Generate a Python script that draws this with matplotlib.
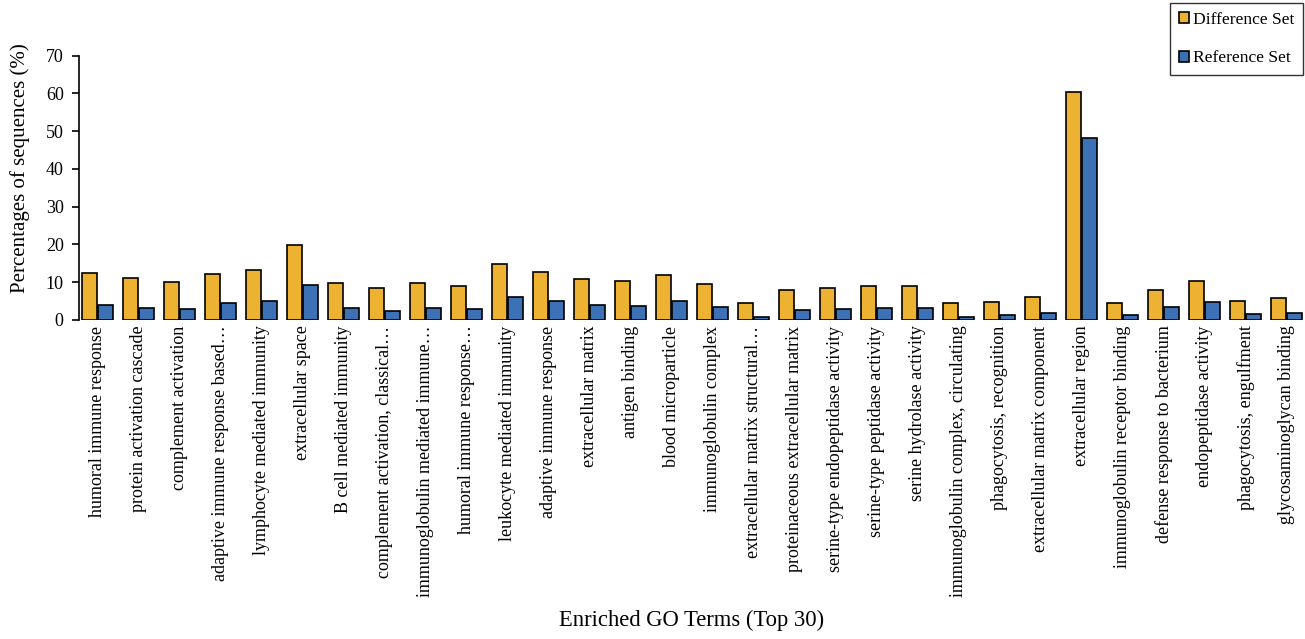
import matplotlib
matplotlib.use("Agg")
import matplotlib.pyplot as plt
import numpy as np

categories = [
    "humoral immune response",
    "protein activation cascade",
    "complement activation",
    "adaptive immune response based\u2026",
    "lymphocyte mediated immunity",
    "extracellular space",
    "B cell mediated immunity",
    "complement activation, classical\u2026",
    "immunoglobulin mediated immune\u2026",
    "humoral immune response\u2026",
    "leukocyte mediated immunity",
    "adaptive immune response",
    "extracellular matrix",
    "antigen binding",
    "blood microparticle",
    "immunoglobulin complex",
    "extracellular matrix structural\u2026",
    "proteinaceous extracellular matrix",
    "serine-type endopeptidase activity",
    "serine-type peptidase activity",
    "serine hydrolase activity",
    "immunoglobulin complex, circulating",
    "phagocytosis, recognition",
    "extracellular matrix component",
    "extracellular region",
    "immunoglobulin receptor binding",
    "defense response to bacterium",
    "endopeptidase activity",
    "phagocytosis, engulfment",
    "glycosaminoglycan binding",
]

difference_set = [12.5, 11.1, 10.1, 12.3, 13.2, 19.9, 9.9, 8.4, 9.7, 8.9,
                  14.7, 12.8, 10.8, 10.2, 12.0, 9.5, 4.4, 8.0, 8.6, 8.9,
                  8.9, 4.4, 4.7, 6.0, 60.3, 4.4, 8.0, 10.3, 5.0, 5.7]
reference_set = [3.9, 3.3, 2.8, 4.4, 5.0, 9.3, 3.1, 2.5, 3.1, 2.8,
                 6.0, 5.1, 3.9, 3.6, 4.9, 3.4, 0.8, 2.7, 3.0, 3.3,
                 3.3, 0.9, 1.2, 1.8, 48.2, 1.2, 3.4, 4.8, 1.6, 1.9]

series_names = ["Difference Set", "Reference Set"]
yticks = [0, 10, 20, 30, 40, 50, 60, 70]

W, H = 1305, 639
fig = plt.figure(figsize=(W / 100, H / 100), dpi=100)
plt.rcParams['font.family'] = ['Liberation Serif', 'DejaVu Serif']

left_px, right_px, top_px, bot_px = 79, 1305, 55.7, 320
ax = fig.add_axes([left_px / W, 1 - bot_px / H, (right_px - left_px) / W, (bot_px - top_px) / H])

x = np.arange(len(categories))
bw = 0.37
c_yellow = "#EDB231"
c_blue = "#3C71B6"
ax.bar(x - 0.2, difference_set, width=bw, color=c_yellow, edgecolor="black", linewidth=1.2,
       label=series_names[0])
ax.bar(x + 0.2, reference_set, width=bw, color=c_blue, edgecolor="black", linewidth=1.2,
       label=series_names[1])

spacing = 41.0
x0 = -(97.7 - left_px) / spacing
ax.set_xlim(x0, x0 + (right_px - left_px) / spacing)
ax.set_ylim(0, 70)
ax.set_yticks(yticks)
ax.set_yticklabels([str(t) for t in yticks], fontsize=13)
ax.set_xticks(x)
ax.set_xticklabels(categories, rotation=90, fontsize=13, va="top", ha="center")
ax.tick_params(axis="x", length=0, pad=4)
ax.tick_params(axis="y", length=5, width=1.2, direction="out", pad=6)

for s in ["top", "right", "bottom"]:
    ax.spines[s].set_visible(False)
ax.spines["left"].set_linewidth(1.2)

fig.text(20 / W, 1 - 168 / H, "Percentages of sequences (%)", rotation=90,
         fontsize=15, ha="center", va="center")
fig.text(692 / W, 1 - 620 / H, "Enriched GO Terms (Top 30)", fontsize=16.3,
         ha="center", va="center")

leg = fig.legend(loc="upper right", bbox_to_anchor=(1303 / W, 1 - 3 / H),
                 fontsize=12.6, frameon=True, fancybox=False, edgecolor="black",
                 handlelength=0.6, handleheight=0.6, handletextpad=0.2,
                 labelspacing=1.3, borderpad=0.5, borderaxespad=0)
leg.get_frame().set_linewidth(1.0)

fig.savefig("out.png", dpi=100, facecolor="white")
